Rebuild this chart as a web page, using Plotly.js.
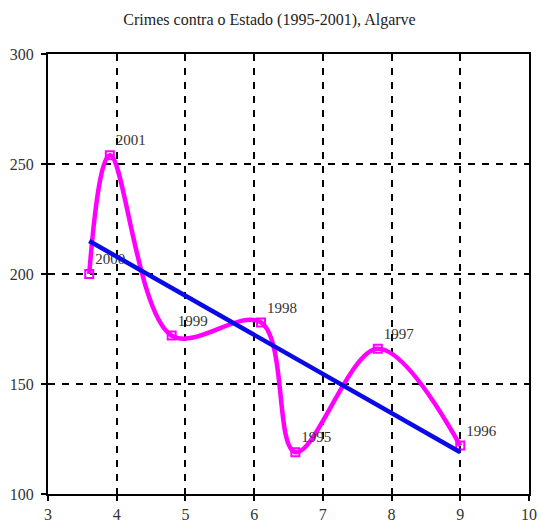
<!DOCTYPE html>
<html>
<head>
<meta charset="utf-8">
<script src="https://cdn.plot.ly/plotly-3.0.1.min.js"></script>
<style>html,body{margin:0;padding:0;background:#fff;}#chart{width:539px;height:522px;}</style>
</head>
<body>
<div id="chart"></div>
<script>
// Data
var xValues = [3.6, 3.9, 4.8, 6.1, 6.6, 7.8, 9.0];
var yValues = [200, 254, 172, 178, 119, 166, 122];
var yearLabels = ["2000", "2001", "1999", "1998", "1995", "1997", "1996"];
var trendX = [3.6, 9.0];
var trendY = [215, 119];
var chartTitle = "Crimes contra o Estado (1995-2001), Algarve";

var serif = "Liberation Serif, Times New Roman, serif";

var traces = [
  {
    x: xValues, y: yValues, text: yearLabels,
    type: "scatter", mode: "lines+markers+text",
    line: {color: "#ff00ff", width: 4.5, shape: "spline", smoothing: 1},
    marker: {symbol: "square-open", size: 8, color: "#ff00ff", line: {width: 2, color: "#ff00ff"}},
    textposition: "top right",
    textfont: {family: serif, size: 15, color: "#333"},
    cliponaxis: false,
    hoverinfo: "x+y+text"
  },
  {
    x: trendX, y: trendY,
    type: "scatter", mode: "lines",
    line: {color: "#0a0ae6", width: 4.5}
  }
];

var axisCommon = {
  showline: true, linecolor: "#000", linewidth: 2, mirror: true,
  ticks: "outside", ticklen: 5, tickwidth: 2, tickcolor: "#000",
  showgrid: true, gridcolor: "#000", gridwidth: 2, griddash: "7px,7px",
  zeroline: false,
  ticklabeloverflow: "allow",
  tickfont: {family: serif, size: 16, color: "#333"}
};

var layout = {
  width: 539, height: 522,
  margin: {l: 48, r: 10, t: 54, b: 28},
  paper_bgcolor: "#fff", plot_bgcolor: "#fff",
  showlegend: false,
  title: {text: chartTitle, font: {family: serif, size: 16, color: "#222"}, x: 0.5, xanchor: "center", y: 0.962, yanchor: "middle"},
  xaxis: Object.assign({}, axisCommon, {range: [3, 10], dtick: 1, tick0: 3, ticklabelstandoff: 0}),
  yaxis: Object.assign({}, axisCommon, {range: [100, 300], dtick: 50, tick0: 100, ticklabelstandoff: 4})
};

Plotly.newPlot("chart", traces, layout, {staticPlot: true, displayModeBar: false});
</script>
</body>
</html>
